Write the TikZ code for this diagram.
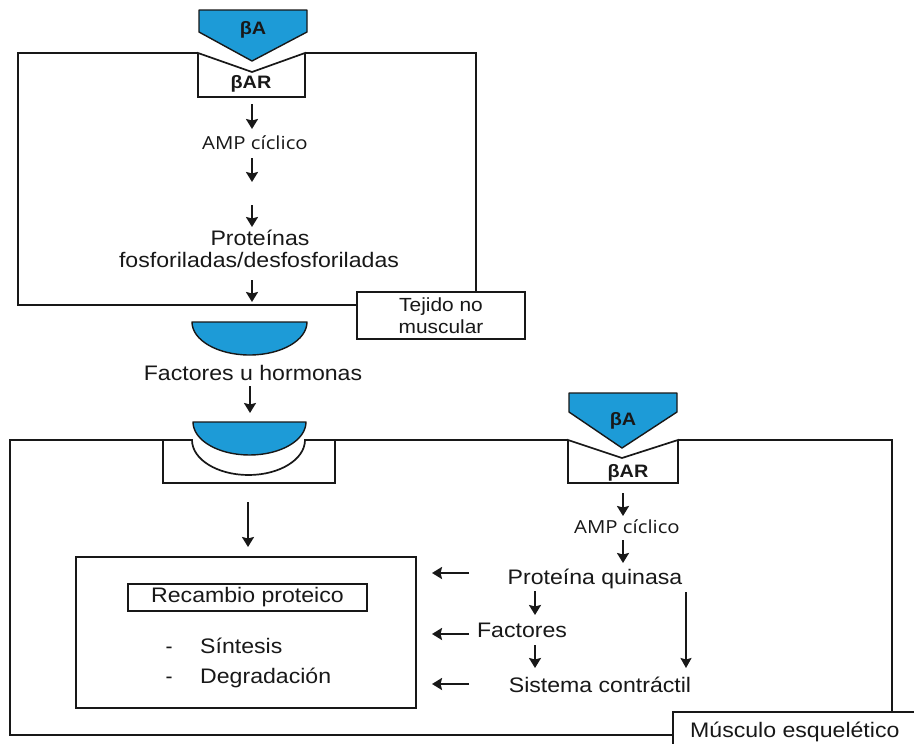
\documentclass[tikz,border=0pt]{standalone}
\usepackage{fontspec}
\usepackage{graphicx}
\setmainfont{Liberation Sans}
\newfontfamily\ampfont{Open Sans}
\usetikzlibrary{arrows.meta}
\definecolor{ligblue}{RGB}{29,155,215}
\definecolor{ink}{RGB}{24,24,24}
\newcommand{\sx}[1]{\scalebox{1.1}[1]{#1}}
\newcommand{\ax}[1]{\scalebox{1.13}[1]{#1}}
\tikzset{
  ln/.style={draw=ink, line width=1.7pt, line join=miter},
  lig/.style={draw=ink, line width=1.4pt, fill=ligblue, line join=round},
  arr/.style={draw=ink, line width=2.8pt, -{Stealth[length=10pt,width=12pt,inset=1.5pt]}},
  thinarr/.style={draw=ink, line width=1.8pt, -{Stealth[length=10pt,width=11pt,inset=1.5pt]}},
  txt/.style={text=ink, inner sep=0pt, font=\fontsize{21}{24}\selectfont},
  ampt/.style={text=ink, inner sep=0pt, font=\ampfont\fontsize{18}{21}\selectfont},
  bt/.style={text=ink, inner sep=0pt, font=\bfseries\fontsize{18}{20}\selectfont},
  boxnode/.style={draw=ink, line width=1.7pt, inner sep=0pt}
}
\begin{document}
\begin{tikzpicture}[x=1pt,y=-1pt]
\useasboundingbox (0,0) rectangle (914,744);
\fill[white] (0,0) rectangle (914,744);

% ---------- top (non-muscular) tissue ----------
\draw[ln] (198,53) -- (18,53) -- (18,305) -- (357,305);
\draw[ln] (305,53) -- (476,53) -- (476,292);
\node[boxnode, minimum width=168pt, minimum height=47pt, align=center,
      font=\fontsize{19}{22}\selectfont, text=ink] (tej) at (441,315.5) {\sx{Tejido no}\\\sx{muscular}};
% receptor and ligand
\draw[ln] (198,53) -- (252,72) -- (305,53) -- (305,97) -- (198,97) -- cycle;
\draw[lig] (199,10) -- (307,10) -- (307,32) -- (252,61) -- (199,32) -- cycle;
\node[bt] (ba1) at (253,30) {\sx{βA}};
\node[bt] (bar1) at (251,84) {\sx{βAR}};

\node[ampt, anchor=base] (amp1) at (255,149) {\ax{AMP cíclico}};
\node[txt, anchor=base] (prot1) at (260,245) {\sx{Proteínas}};
\node[txt, anchor=base] (fosf) at (259,267) {\sx{fosforiladas/desfosforiladas}};

\coordinate (a1s) at (252,104); \coordinate (a1e) at (252,129);
\coordinate (a2s) at (252,158); \coordinate (a2e) at (252,182);
\coordinate (a3s) at (252,205); \coordinate (a3e) at (252,227);
\coordinate (a4s) at (252,280); \coordinate (a4e) at (252,302);
\draw[arr] (a1s) -- (a1e);
\draw[arr] (a2s) -- (a2e);
\draw[arr] (a3s) -- (a3e);
\draw[arr] (a4s) -- (a4e);

% ---------- factors / hormones ----------
\draw[lig] (192,322) -- (307,322) arc[start angle=0, end angle=180, x radius=57.5, y radius=33] -- cycle;
\node[txt, anchor=base] (fuh) at (253,380) {\sx{Factores u hormonas}};
\coordinate (a5s) at (250,386); \coordinate (a5e) at (250,413);
\draw[arr] (a5s) -- (a5e);

% ---------- skeletal muscle ----------
\draw[ln] (163,440) -- (10,440) -- (10,735) -- (673,735);
\draw[ln] (335,440) -- (568,440);
\draw[ln] (678,440) -- (892,440) -- (892,712);
\draw[ln] (673,744) -- (673,712) -- (914,712);
\node[txt, anchor=base west] (mus) at (690,737) {\sx{Músculo esquelético}};

% receptor for factors (cup)
\draw[ln] (163,440) -- (192,440) arc[start angle=180, end angle=360, x radius=56.5, y radius=-35] -- (335,440) -- (335,483) -- (163,483) -- cycle;
\draw[lig] (193,422) -- (306,422) arc[start angle=0, end angle=180, x radius=56.5, y radius=33] -- cycle;

% beta receptor 2
\draw[ln] (568,440) -- (622,458) -- (678,440) -- (678,483) -- (568,483) -- cycle;
\draw[lig] (569,393) -- (677,393) -- (677,412) -- (622,448) -- (569,412) -- cycle;
\node[bt] (ba2) at (623,421) {\sx{βA}};
\node[bt] (bar2) at (628,473) {\sx{βAR}};

\coordinate (a6s) at (248,502); \coordinate (a6e) at (248,547);
\draw[arr] (a6s) -- (a6e);

% inner box
\draw[ln] (76,557) rectangle (416,708);
\node[boxnode, minimum width=239pt, minimum height=27pt, text=ink,
      font=\fontsize{21}{24}\selectfont] (rec) at (247.5,597.5) {\sx{Recambio proteico}};
\node[txt, anchor=base] (d1) at (169,653) {-};
\node[txt, anchor=base west] (sin) at (200,653) {\sx{Síntesis}};
\node[txt, anchor=base] (d2) at (169,683) {-};
\node[txt, anchor=base west] (deg) at (200,683) {\sx{Degradación}};

% right-hand cascade
\node[ampt, anchor=base] (amp2) at (627,533) {\ax{AMP cíclico}};
\node[txt, anchor=base] (pq) at (595,584) {\sx{Proteína quinasa}};
\node[txt, anchor=base] (fac) at (522,637) {\sx{Factores}};
\node[txt, anchor=base] (sc) at (600,692) {\sx{Sistema contráctil}};

\coordinate (b1s) at (623,493); \coordinate (b1e) at (623,516);
\coordinate (b2s) at (623,540); \coordinate (b2e) at (623,563);
\coordinate (b3s) at (535,591); \coordinate (b3e) at (535,615);
\coordinate (b4s) at (535,645); \coordinate (b4e) at (535,668);
\coordinate (b5s) at (686,592); \coordinate (b5e) at (686,668);
\draw[arr] (b1s) -- (b1e);
\draw[arr] (b2s) -- (b2e);
\draw[arr] (b3s) -- (b3e);
\draw[arr] (b4s) -- (b4e);
\draw[thinarr] (b5s) -- (b5e);

\coordinate (l1s) at (469,573); \coordinate (l1e) at (432,573);
\coordinate (l2s) at (469,634); \coordinate (l2e) at (432,634);
\coordinate (l3s) at (469,684); \coordinate (l3e) at (432,684);
\draw[arr] (l1s) -- (l1e);
\draw[arr] (l2s) -- (l2e);
\draw[arr] (l3s) -- (l3e);
\end{tikzpicture}
\end{document}
